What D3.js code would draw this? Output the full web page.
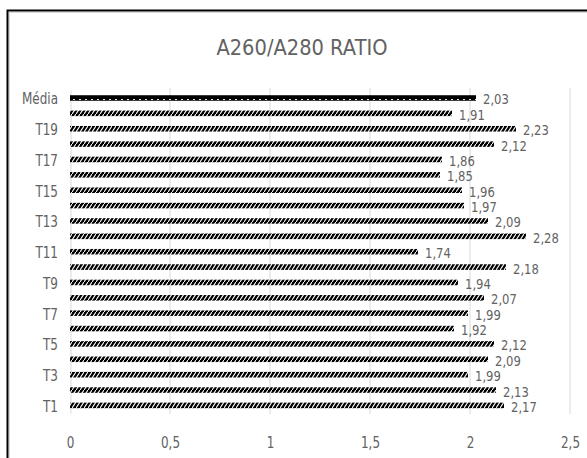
<!DOCTYPE html>
<html>
<head>
<meta charset="utf-8">
<script src="https://cdn.jsdelivr.net/npm/d3@7"></script>
<style>
  body { margin: 0; background: #fff; }
  svg { display: block; }
</style>
</head>
<body>
<svg id="chart"></svg>
<script>
  const categories = ['T1', 'T2', 'T3', 'T4', 'T5', 'T6', 'T7', 'T8', 'T9', 'T10',
    'T11', 'T12', 'T13', 'T14', 'T15', 'T16', 'T17', 'T18', 'T19', 'T20', 'Média'];
  const values = [2.17, 2.13, 1.99, 2.09, 2.12, 1.92, 1.99, 2.07, 1.94, 2.18,
    1.74, 2.28, 2.09, 1.97, 1.96, 1.85, 1.86, 2.12, 2.23, 1.91, 2.03];
  const shownLabels = ['T1', 'T3', 'T5', 'T7', 'T9', 'T11', 'T13', 'T15', 'T17', 'T19', 'Média'];
  const xTicks = [0, 0.5, 1, 1.5, 2, 2.5];

  const W = 587, H = 458;
  const font = '"DejaVu Sans", sans-serif';
  const squeeze = 0.8; // narrow the glyphs a bit, the original uses a condensed face
  const grey = '#626262';
  const fmt = (v) => String(v).replace('.', ',');

  const svg = d3.select('#chart').attr('width', W).attr('height', H);

  const defs = svg.append('defs');
  const hatch = defs.append('pattern')
    .attr('id', 'hatch')
    .attr('patternUnits', 'userSpaceOnUse')
    .attr('width', 4).attr('height', 6);
  hatch.append('rect').attr('width', 4).attr('height', 6).attr('fill', '#000');
  hatch.append('line')
    .attr('x1', 0).attr('y1', 6).attr('x2', 4).attr('y2', 0)
    .attr('stroke', '#fff').attr('stroke-width', 1.1);
  const dashed = defs.append('pattern')
    .attr('id', 'dashed')
    .attr('patternUnits', 'userSpaceOnUse')
    .attr('width', 6).attr('height', 6);
  dashed.append('rect').attr('width', 6).attr('height', 6).attr('fill', '#000');
  dashed.append('line')
    .attr('x1', 1).attr('y1', 3.5).attr('x2', 3).attr('y2', 3.5)
    .attr('stroke', '#fff').attr('stroke-width', 0.9);

  // chart frame (only top and left edge are in view)
  svg.append('path').attr('d', 'M9.5,' + H + ' V12.5 H' + W)
    .attr('fill', 'none').attr('stroke', '#d9d9d9').attr('stroke-width', 1);
  svg.append('path').attr('d', 'M7.5,' + H + ' V10.5 H' + W)
    .attr('fill', 'none').attr('stroke', '#000').attr('stroke-width', 2);

  svg.append('text')
    .text('A260/A280 RATIO')
    .attr('text-anchor', 'middle')
    .attr('transform', 'translate(302, 55) scale(0.95, 1)')
    .attr('font-family', font)
    .attr('font-size', 20.5)
    .attr('fill', grey);

  const xScale = d3.scaleLinear().domain([0, 2.5]).range([70, 570]);
  const yScale = d3.scaleBand().domain(categories.slice().reverse()).range([90.3, 413.1]).paddingInner(0.64).paddingOuter(0.32);

  const grid = svg.append('g');
  grid.selectAll('line').data(xTicks.slice(1)).enter().append('line')
    .attr('x1', (d) => xScale(d)).attr('x2', (d) => xScale(d))
    .attr('y1', 88).attr('y2', 414)
    .attr('stroke', '#d9d9d9').attr('stroke-width', 1);

  const xAxis = svg.append('g')
    .attr('transform', 'translate(0, 413)')
    .call(d3.axisBottom(xScale).tickValues(xTicks).tickFormat(fmt).tickSize(0));
  xAxis.select('.domain').remove();
  xAxis.selectAll('text')
    .attr('y', 35).attr('dy', 0)
    .attr('transform', 'scale(' + squeeze + ', 1)')
    .attr('font-family', font).attr('font-size', 15).attr('fill', grey);

  const yAxis = svg.append('g')
    .attr('transform', 'translate(70.5, 0)')
    .call(d3.axisLeft(yScale).tickSize(0)
      .tickFormat((d) => shownLabels.includes(d) ? d : ''));
  yAxis.select('.domain').attr('stroke', '#d9d9d9');
  yAxis.selectAll('text')
    .attr('x', -12.5 / squeeze).attr('dy', 0).attr('y', 6.5)
    .attr('transform', 'scale(' + squeeze + ', 1)')
    .attr('font-family', font).attr('font-size', 15).attr('fill', grey);

  const rows = categories.map((c, i) => ({ cat: c, val: values[i] }));
  svg.append('g').selectAll('rect').data(rows).enter().append('rect')
    .attr('x', xScale(0))
    .attr('y', (d) => yScale(d.cat))
    .attr('height', yScale.bandwidth())
    .attr('width', (d) => xScale(d.val) - xScale(0))
    .attr('fill', (d) => d.cat === 'Média' ? 'url(#dashed)' : 'url(#hatch)');

  svg.append('g').selectAll('text').data(rows).enter().append('text')
    .text((d) => fmt(d.val))
    .attr('transform', (d) => 'translate(' + (xScale(d.val) + 7) + ',' +
      (yScale(d.cat) + yScale.bandwidth() / 2 + 6.5) + ') scale(' + squeeze + ', 1)')
    .attr('font-family', font)
    .attr('font-size', 14.5)
    .attr('fill', grey);
</script>
</body>
</html>
